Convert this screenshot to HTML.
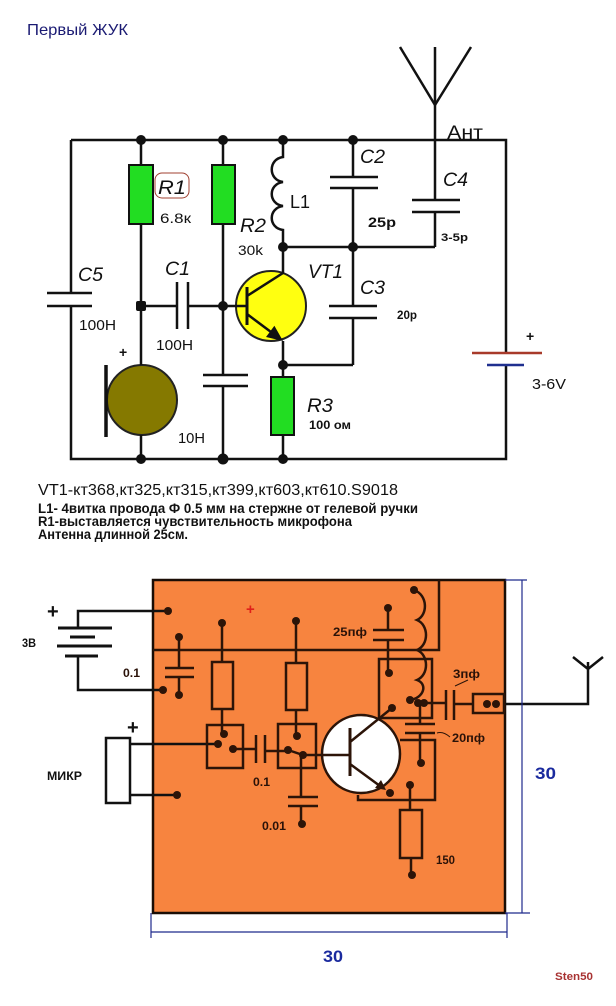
<!DOCTYPE html>
<html><head><meta charset="utf-8"><style>
html,body{margin:0;padding:0;background:#fff;}
svg{display:block;}
text{font-family:"Liberation Sans","DejaVu Sans",sans-serif;}
</style></head><body>
<svg width="616" height="1006" viewBox="0 0 616 1006" xmlns="http://www.w3.org/2000/svg">
<rect width="616" height="1006" fill="#fff"/>
<!-- Title -->
<text x="27" y="35" font-size="16" fill="#1b1b73" textLength="101" lengthAdjust="spacingAndGlyphs">Первый ЖУК</text>

<!-- ===== Top schematic ===== -->
<circle cx="271" cy="306" r="35" fill="#ffff10" stroke="#222" stroke-width="2"/>
<circle cx="142" cy="400" r="35" fill="#857900" stroke="#222" stroke-width="2"/>
<g stroke="#111" stroke-width="2.5" fill="none">
<path d="M71 140 H506 V353 M506 365 V459 H71 V306 M71 293 V140"/>
<path d="M47 293 H92 M47 306 H92"/>
<path d="M141 140 V165 M141 224 V365 M141 435 V459"/>
<path d="M141 306 H177 M188 306 H247"/>
<path d="M177 282 V329 M188 282 V329"/>
<path d="M223 140 V165 M223 224 V375 M223 386 V459"/>
<path d="M203 375 H248 M203 386 H248"/>
<path d="M283 140 V157 C268 159 268 180 283 182 C268 184 268 204 283 206 C268 208 268 228 283 230 V274"/>
<path d="M283 247 H435"/>
<path d="M353 140 V177 M353 188 V247 M330 177 H378 M330 188 H378"/>
<path d="M435 47 V200 M435 212 V247 M412 200 H460 M412 212 H460"/>
<path d="M400 47 L435 105 L471 47"/>
<path d="M353 247 V306 M353 318 V365 M329 306 H377 M329 318 H377"/>
<path d="M283 341 V377 M283 365 H353 M283 435 V459"/>
<path d="M247 287 V325" stroke-width="3"/>
<path d="M247 296 L283 273 M247 314 L275 335"/>
<path d="M106 365 V437" stroke-width="3.5"/>
</g>
<polygon points="283,341 266,337 274.4,325.8" fill="#111"/>
<path d="M472 353 H542" stroke="#a83a2a" stroke-width="2.5"/>
<path d="M487 365 H524" stroke="#1f2f8f" stroke-width="2.5"/>
<g fill="#22dd22" stroke="#111" stroke-width="2">
<rect x="129" y="165" width="24" height="59"/>
<rect x="212" y="165" width="23" height="59"/>
<rect x="271" y="377" width="23" height="58"/>
</g>
<g fill="#111">
<circle cx="141" cy="140" r="5"/><circle cx="223" cy="140" r="5"/><circle cx="283" cy="140" r="5"/><circle cx="353" cy="140" r="5"/>
<circle cx="283" cy="247" r="5"/><circle cx="353" cy="247" r="5"/>
<rect x="136" y="301" width="10" height="10" rx="2"/><circle cx="223" cy="306" r="5"/>
<circle cx="283" cy="365" r="5"/>
<circle cx="141" cy="459" r="5"/><circle cx="223" cy="459" r="5.5"/><circle cx="283" cy="459" r="5"/>
</g>
<rect x="155" y="173" width="34" height="25" rx="7" fill="none" stroke="#a04030" stroke-width="1"/>
<g fill="#111">
<text x="158" y="194" font-size="19" font-style="italic" textLength="28" lengthAdjust="spacingAndGlyphs">R1</text>
<text x="160" y="223" font-size="14" textLength="31" lengthAdjust="spacingAndGlyphs">6.8к</text>
<text x="240" y="232" font-size="19" font-style="italic" textLength="26" lengthAdjust="spacingAndGlyphs">R2</text>
<text x="238" y="255" font-size="14" textLength="25" lengthAdjust="spacingAndGlyphs">30k</text>
<text x="290" y="208" font-size="18" textLength="20" lengthAdjust="spacingAndGlyphs">L1</text>
<text x="360" y="163" font-size="19" font-style="italic" textLength="25" lengthAdjust="spacingAndGlyphs">C2</text>
<text x="443" y="186" font-size="19" font-style="italic" textLength="25" lengthAdjust="spacingAndGlyphs">C4</text>
<text x="447" y="139" font-size="19" textLength="36" lengthAdjust="spacingAndGlyphs">Ант</text>
<text x="368" y="227" font-size="14" font-weight="bold" textLength="28" lengthAdjust="spacingAndGlyphs">25p</text>
<text x="441" y="241" font-size="11" font-weight="bold" textLength="27" lengthAdjust="spacingAndGlyphs">3-5p</text>
<text x="78" y="281" font-size="19" font-style="italic" textLength="25" lengthAdjust="spacingAndGlyphs">C5</text>
<text x="79" y="330" font-size="15" textLength="37" lengthAdjust="spacingAndGlyphs">100H</text>
<text x="165" y="275" font-size="19" font-style="italic" textLength="25" lengthAdjust="spacingAndGlyphs">C1</text>
<text x="156" y="350" font-size="15" textLength="37" lengthAdjust="spacingAndGlyphs">100H</text>
<text x="119" y="357" font-size="14" font-weight="bold">+</text>
<text x="178" y="443" font-size="15" textLength="27" lengthAdjust="spacingAndGlyphs">10H</text>
<text x="308" y="278" font-size="19" font-style="italic" textLength="35" lengthAdjust="spacingAndGlyphs">VT1</text>
<text x="360" y="294" font-size="19" font-style="italic" textLength="25" lengthAdjust="spacingAndGlyphs">C3</text>
<text x="397" y="319" font-size="12" font-weight="bold" textLength="20" lengthAdjust="spacingAndGlyphs">20p</text>
<text x="526" y="341" font-size="14" font-weight="bold">+</text>
<text x="532" y="389" font-size="15" textLength="34" lengthAdjust="spacingAndGlyphs">3-6V</text>
<text x="307" y="412" font-size="19" font-style="italic" textLength="26" lengthAdjust="spacingAndGlyphs">R3</text>
<text x="309" y="429" font-size="12" font-weight="bold" textLength="42" lengthAdjust="spacingAndGlyphs">100 ом</text>
</g>

<!-- ===== Notes ===== -->
<g fill="#111">
<text x="38" y="495" font-size="16" textLength="360" lengthAdjust="spacingAndGlyphs">VT1-кт368,кт325,кт315,кт399,кт603,кт610.S9018</text>
<text x="38" y="513" font-size="13.5" font-weight="bold" textLength="380" lengthAdjust="spacingAndGlyphs">L1- 4витка провода Ф 0.5 мм на стержне от гелевой ручки</text>
<text x="38" y="526" font-size="13.5" font-weight="bold" textLength="314" lengthAdjust="spacingAndGlyphs">R1-выставляется чувствительность микрофона</text>
<text x="38" y="539" font-size="13.5" font-weight="bold" textLength="150" lengthAdjust="spacingAndGlyphs">Антенна длинной 25см.</text>
</g>

<!-- ===== Board ===== -->
<rect x="153" y="580" width="352" height="333" fill="#f7843f" stroke="#1a0d05" stroke-width="2.5"/>
<!-- outside wiring -->
<g stroke="#111" stroke-width="2.5" fill="none">
<path d="M168 611 H78 V628 M78 656 V690 H163"/>
<path d="M58 628 H112 M70 637 H95 M57 646 H112 M65 656 H98" stroke-width="3"/>
<path d="M130 744 H218 M130 795 H177"/>
<path d="M504 704 H588 V662 M573 657 L588 669 L603 657"/>
</g>
<rect x="106" y="738" width="24" height="65" fill="#fff" stroke="#111" stroke-width="2.5"/>
<circle cx="361" cy="754" r="39" fill="#fff" stroke="#2c1408" stroke-width="2.5"/>
<g stroke="#2c1408" stroke-width="2.5" fill="none">
<path d="M153 650 H439 V580"/>
<path d="M179 637 V668 M179 677 V695 M165 668 H194 M165 677 H194"/>
<path d="M222 623 V662 M222 709 V734"/>
<rect x="212" y="662" width="21" height="47"/>
<rect x="207" y="725" width="36" height="43"/>
<path d="M296 621 V663 M296 710 V736"/>
<rect x="286" y="663" width="21" height="47"/>
<rect x="278" y="724" width="38" height="44"/>
<path d="M233 749 H256 M265 751 H288 M256 735 V763 M265 735 V763"/>
<path d="M288 750 L303 755 H350"/>
<path d="M301 755 V797 M301 806 V824 M288 797 H318 M288 806 H318" />
<path d="M388 608 V630 M388 640 V673 M373 630 H404 M373 640 H404"/>
<path d="M414 590 C428 595 428 615 417 620 C429 625 429 645 417 650 C429 655 429 675 417 680 C428 684 424 698 410 700"/>
<rect x="379" y="659" width="53" height="59"/>
<path d="M420 703 V724 M420 733 V763 M405 724 H435 M405 733 H435"/>
<path d="M350 728 V776" stroke-width="3"/>
<path d="M350 742 L392 708 M350 764 L380 786"/>
<path d="M358 795 V800 H435 V740 H400"/>
<path d="M410 785 V810 M411 858 V875"/>
<rect x="400" y="810" width="22" height="48"/>
<path d="M423 703 H446 M454 704 H473 M446 690 V720 M454 690 V720"/>
<rect x="473" y="694" width="31" height="19"/>
</g>
<polygon points="386,790 375,788 381,780" fill="#2c1408"/>
<g fill="#2c1408">
<circle cx="168" cy="611" r="4"/><circle cx="163" cy="690" r="4"/>
<circle cx="179" cy="637" r="4"/><circle cx="179" cy="695" r="4"/>
<circle cx="222" cy="623" r="4"/><circle cx="296" cy="621" r="4"/>
<circle cx="224" cy="734" r="4"/><circle cx="218" cy="744" r="4"/><circle cx="233" cy="749" r="4"/>
<circle cx="297" cy="736" r="4"/><circle cx="288" cy="750" r="4"/><circle cx="303" cy="755" r="4"/>
<circle cx="302" cy="824" r="4"/><circle cx="177" cy="795" r="4"/>
<circle cx="388" cy="608" r="4"/><circle cx="389" cy="673" r="4"/>
<circle cx="414" cy="590" r="4"/><circle cx="410" cy="700" r="4"/>
<circle cx="418" cy="703" r="4"/><circle cx="424" cy="703" r="4"/>
<circle cx="392" cy="708" r="4"/><circle cx="390" cy="793" r="4"/>
<circle cx="421" cy="763" r="4"/><circle cx="410" cy="785" r="4"/><circle cx="412" cy="875" r="4"/>
<circle cx="487" cy="704" r="4"/><circle cx="496" cy="704" r="4"/>
</g>
<path d="M455 686 L468 680 M437 733 Q443 731 450 737" stroke="#2c1408" stroke-width="1" fill="none"/>
<!-- dimensions -->
<g stroke="#1e2a8c" stroke-width="1.2" fill="none">
<path d="M522 580 V913 M505 580 H527 M505 913 H530"/>
<path d="M151 932 H507 M151 913 V938 M507 913 V938"/>
</g>
<!-- board labels -->
<g fill="#111" font-weight="bold">
<text x="22" y="647" font-size="12" textLength="14" lengthAdjust="spacingAndGlyphs">3В</text>
<text x="47" y="618" font-size="20">+</text>
<text x="127" y="734" font-size="20">+</text>
<text x="47" y="780" font-size="12" textLength="35" lengthAdjust="spacingAndGlyphs">МИКР</text>
</g>
<g fill="#2a1208" font-weight="bold" font-size="12">
<text x="123" y="677" textLength="17" lengthAdjust="spacingAndGlyphs">0.1</text>
<text x="253" y="786" textLength="17" lengthAdjust="spacingAndGlyphs">0.1</text>
<text x="262" y="830" textLength="24" lengthAdjust="spacingAndGlyphs">0.01</text>
<text x="333" y="636" textLength="34" lengthAdjust="spacingAndGlyphs">25пф</text>
<text x="453" y="678" textLength="27" lengthAdjust="spacingAndGlyphs">3пф</text>
<text x="452" y="742" textLength="33" lengthAdjust="spacingAndGlyphs">20пф</text>
<text x="436" y="864" textLength="19" lengthAdjust="spacingAndGlyphs">150</text>
</g>
<text x="246" y="614" font-size="15" font-weight="bold" fill="#e0201a">+</text>
<text x="535" y="779" font-size="17" font-weight="bold" fill="#1a2a9e" textLength="21" lengthAdjust="spacingAndGlyphs">30</text>
<text x="323" y="962" font-size="17" font-weight="bold" fill="#1a2a9e" textLength="20" lengthAdjust="spacingAndGlyphs">30</text>
<text x="555" y="980" font-size="11" font-weight="bold" fill="#a83232" textLength="38" lengthAdjust="spacingAndGlyphs">Sten50</text>
</svg>
</body></html>
